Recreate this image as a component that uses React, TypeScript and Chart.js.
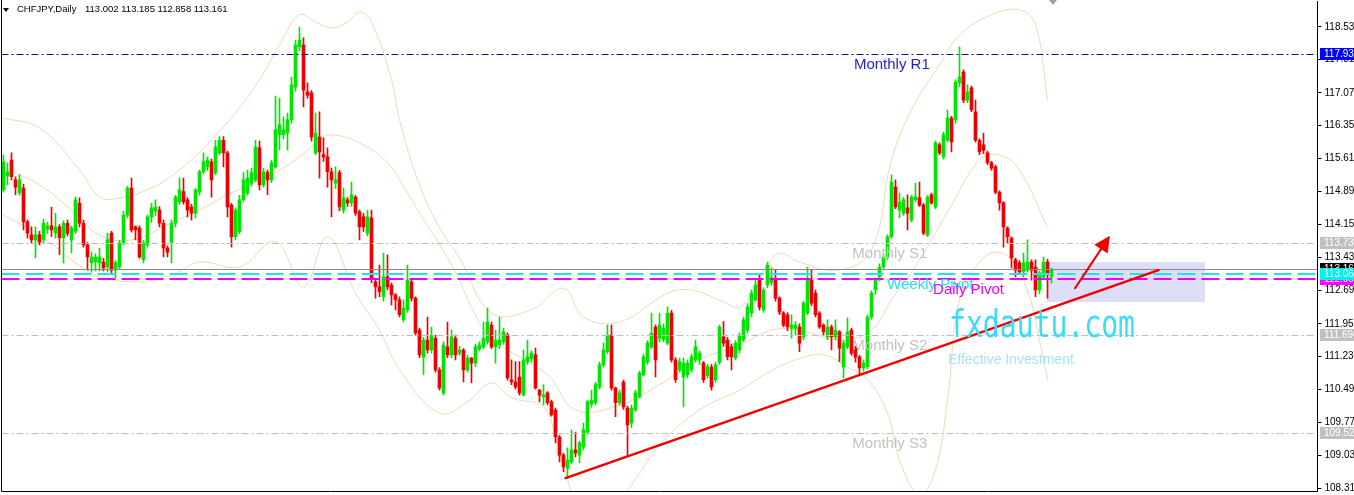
import React, { useEffect, useRef } from 'react';
import { Chart, registerables } from 'chart.js';

Chart.register(...registerables);

// ---------- DATA ----------
const symbolTitle = 'CHFJPY,Daily';
const ohlcTitle = '113.002 113.185 112.858 113.161';

const opens = [
  114.92,115.23,115.58,115.14,114.85,114.96,114.21,113.92,113.81,113.92,
  113.81,114.05,114.12,113.96,114.10,113.86,114.18,113.81,114.00,114.62,
  114.18,113.70,113.30,113.32,113.30,113.32,113.21,113.96,113.14,113.21,
  113.74,114.36,114.96,114.10,114.07,113.37,113.70,114.32,114.45,114.47,
  114.18,113.63,113.76,114.18,114.65,114.88,114.70,114.54,114.40,114.87,
  115.32,115.43,115.54,115.30,115.74,116.02,115.74,114.58,113.88,114.00,
  114.70,114.85,115.07,115.14,115.85,115.03,115.30,115.14,115.43,116.14,
  116.14,116.18,116.47,117.20,118.09,118.13,117.09,117.07,115.74,116.09,
  115.70,115.65,115.32,115.07,115.30,114.47,114.70,114.63,114.76,114.43,
  114.32,113.96,114.30,112.88,112.77,112.55,112.99,112.81,112.59,112.48,
  112.04,112.26,112.88,112.52,111.81,111.21,111.59,111.37,111.63,110.93,
  110.42,111.44,111.26,111.63,111.30,111.37,110.93,111.19,111.08,111.40,
  111.44,111.55,111.92,111.44,111.48,111.55,111.70,110.71,110.66,110.77,
  110.37,111.11,111.17,111.26,110.48,110.33,110.42,110.22,110.04,109.44,
  109.04,108.75,108.89,109.15,109.04,109.22,109.55,110.17,110.20,110.55,
  111.04,111.33,111.70,110.53,110.20,110.66,110.08,109.75,110.04,110.33,
  110.82,111.10,111.44,111.88,111.63,111.60,111.52,112.19,111.15,110.93,
  110.77,110.82,110.93,111.15,111.15,111.08,110.80,110.99,110.71,111.10,
  111.66,111.59,111.44,111.19,111.37,111.59,111.81,112.19,112.48,112.92,
  112.26,112.81,112.86,112.92,112.52,112.19,112.15,111.85,111.85,111.88,
  111.66,112.19,112.92,112.63,112.19,111.92,111.66,111.88,111.66,111.77,
  110.99,111.44,111.81,111.41,111.21,110.97,111.00,112.10,112.70,112.99,
  113.21,113.43,113.88,114.98,114.47,114.40,114.52,114.25,114.70,114.74,
  114.58,113.92,114.81,114.54,115.92,115.65,116.02,116.51,116.47,117.29,
  117.53,116.91,117.18,116.65,116.02,115.92,115.74,115.52,115.43,114.87,
  114.63,114.07,113.85,113.37,113.30,113.10,113.14,113.32,113.21,112.70,
  112.99,113.32,113.002
];
const highs = [
  115.69,115.52,115.74,115.21,115.25,115.05,114.25,114.10,114.10,114.00,
  114.27,114.20,114.54,114.40,114.15,114.23,114.25,114.12,114.76,114.74,
  114.25,113.75,113.54,113.50,113.63,113.40,113.96,114.00,113.35,113.80,
  114.45,115.00,115.18,114.12,114.12,113.80,114.36,114.62,114.70,114.55,
  114.25,113.68,114.25,114.80,115.18,115.18,114.75,114.60,114.95,115.36,
  115.74,115.65,115.60,116.02,116.10,116.10,115.78,114.62,114.52,114.80,
  115.30,115.36,115.40,116.02,116.00,115.40,115.36,115.58,117.00,116.95,
  116.53,116.62,117.42,118.24,118.53,118.29,117.29,117.12,116.62,116.65,
  116.07,115.85,115.40,115.43,115.35,114.96,114.75,115.09,114.80,114.47,
  114.40,114.47,114.47,112.95,113.25,113.52,113.48,112.85,112.62,112.55,
  112.48,113.25,112.95,112.55,111.85,111.65,112.10,111.88,111.70,110.98,
  111.55,111.99,111.81,111.70,111.45,111.40,111.25,111.20,111.50,111.55,
  111.99,112.30,111.99,111.81,112.10,111.85,111.75,111.15,111.11,111.11,
  111.37,111.59,111.35,111.41,110.50,110.60,110.45,110.26,110.08,109.48,
  109.08,109.20,109.60,109.55,109.35,109.75,110.26,110.48,110.65,111.10,
  111.52,111.92,111.92,110.55,110.48,110.70,110.12,110.15,110.48,110.90,
  111.28,111.58,112.19,111.92,112.19,111.95,112.32,112.25,111.20,111.19,
  111.19,111.15,111.28,111.59,111.35,111.12,111.05,111.05,111.10,111.92,
  112.00,111.65,111.50,111.58,111.75,112.10,112.40,112.70,112.92,113.03,
  112.75,113.32,113.19,113.14,112.55,112.22,112.20,112.15,112.00,111.95,
  112.45,113.21,113.14,112.70,112.22,111.95,112.04,111.92,112.04,111.80,
  111.58,112.08,111.85,111.45,111.25,111.15,112.15,112.68,112.97,113.28,
  113.50,113.92,115.25,115.14,114.85,114.75,114.81,114.80,115.07,115.09,
  114.62,114.80,114.85,116.00,115.96,116.20,116.69,116.55,117.36,118.09,
  117.58,117.25,117.22,116.91,116.05,116.18,115.78,115.55,115.47,114.90,
  114.66,114.10,113.88,113.40,113.35,113.52,113.81,113.37,113.37,113.12,
  113.43,113.38,113.185
];
const lows = [
  114.87,115.03,115.14,114.81,114.80,114.03,113.85,113.74,113.41,113.70,
  113.74,113.95,113.88,113.85,113.48,113.30,113.90,113.52,113.95,114.10,
  113.65,113.14,113.10,113.12,113.12,113.12,113.10,113.08,112.97,113.15,
  113.70,114.30,113.98,113.81,113.40,113.30,113.65,114.20,114.35,114.10,
  113.43,113.43,113.30,114.10,114.60,114.60,114.32,114.25,114.30,114.80,
  115.28,115.35,114.76,115.25,115.70,115.43,114.32,113.65,113.81,113.95,
  114.65,114.80,115.00,115.10,114.92,114.98,114.81,115.08,115.40,115.80,
  116.05,115.80,116.40,117.10,118.00,116.76,116.95,116.00,115.70,115.18,
  115.55,114.98,114.32,114.95,114.45,114.40,114.55,114.55,114.35,113.81,
  114.00,113.90,112.86,112.52,112.55,112.45,112.70,112.37,112.26,112.10,
  111.99,112.20,112.45,111.70,111.20,110.82,111.30,111.30,110.88,110.48,
  110.37,111.20,111.20,111.15,111.25,110.66,110.88,110.64,111.00,111.35,
  111.40,111.50,111.40,111.08,111.40,111.50,110.70,110.60,110.50,110.37,
  110.35,111.05,111.10,110.50,110.22,110.15,110.15,109.90,109.31,108.89,
  108.67,108.53,108.85,109.00,108.87,109.15,109.50,110.10,110.15,110.50,
  111.00,111.28,110.48,109.89,110.15,110.05,109.00,109.65,110.00,110.30,
  110.80,111.05,111.40,110.77,111.55,111.55,111.48,111.10,110.65,110.88,
  110.11,110.75,110.88,111.10,111.05,110.65,110.75,110.48,110.65,111.05,
  111.45,111.15,110.93,111.15,111.30,111.55,111.75,112.10,112.45,112.25,
  112.20,112.75,112.80,112.45,112.15,111.88,111.80,111.63,111.70,111.33,
  111.60,112.15,112.35,112.10,111.85,111.70,111.60,111.37,111.60,111.11,
  110.75,111.40,111.25,111.10,110.82,110.90,110.95,112.05,112.60,112.90,
  113.15,113.38,113.85,114.50,114.30,114.35,114.03,114.21,114.65,114.55,
  113.92,113.88,114.60,114.50,115.70,115.60,115.98,115.76,116.40,117.20,
  116.85,116.85,116.65,115.98,115.70,115.72,115.48,115.35,114.83,114.47,
  113.65,113.74,113.19,112.99,113.05,112.99,113.10,112.92,112.55,112.62,
  112.95,112.52,112.858
];
const closes = [
  115.54,115.32,115.21,114.98,115.14,114.21,113.96,113.81,113.92,113.76,
  114.18,114.12,114.03,114.10,113.86,114.18,113.96,114.07,114.70,114.18,
  113.70,113.43,113.43,113.43,113.43,113.19,113.81,113.14,113.30,113.74,
  114.36,114.96,114.03,114.03,113.43,113.74,114.32,114.52,114.54,114.18,
  113.63,113.54,114.18,114.76,114.92,114.65,114.47,114.40,114.92,115.32,
  115.54,115.58,115.14,115.87,116.02,115.74,114.54,113.88,114.47,114.70,
  115.14,115.18,115.30,115.87,115.03,115.32,115.14,115.52,116.25,116.36,
  116.25,116.47,117.25,118.13,118.24,117.13,117.02,116.09,116.18,115.76,
  115.65,115.32,115.14,115.14,114.54,114.74,114.63,114.81,114.40,114.10,
  114.10,114.32,112.97,112.77,112.66,112.99,112.77,112.59,112.48,112.15,
  112.30,112.92,112.52,111.75,111.26,111.59,111.37,111.70,110.93,110.53,
  111.48,111.26,111.66,111.26,111.37,110.93,111.19,111.08,111.44,111.48,
  111.63,111.99,111.44,111.59,111.59,111.77,110.75,110.66,110.55,110.42,
  111.15,111.22,111.30,110.53,110.37,110.37,110.20,109.93,109.44,109.04,
  108.78,108.93,109.15,109.09,109.31,109.60,110.22,110.26,110.60,111.04,
  111.37,111.70,110.53,110.20,110.42,110.11,109.71,110.08,110.42,110.86,
  111.22,111.52,111.74,111.15,111.92,111.85,112.19,111.15,110.71,111.11,
  111.08,111.08,111.22,111.44,111.30,110.71,111.00,110.55,111.04,111.88,
  111.52,111.22,111.22,111.52,111.70,112.04,112.32,112.63,112.81,112.32,
  112.70,113.25,112.97,112.52,112.21,111.92,111.88,111.92,111.92,111.52,
  112.41,112.92,112.41,112.15,111.88,111.77,111.88,111.66,111.81,111.41,
  111.52,111.77,111.30,111.21,110.97,111.08,112.10,112.63,112.92,113.21,
  113.43,113.88,115.09,114.54,114.65,114.70,114.40,114.76,114.76,114.58,
  113.96,114.76,114.63,115.96,115.74,116.14,116.51,115.98,117.31,117.42,
  116.91,117.09,116.69,116.02,115.76,115.80,115.52,115.40,114.87,114.63,
  114.10,113.88,113.41,113.14,113.10,113.30,113.32,113.14,112.70,113.08,
  113.32,113.08,113.161
];

// Bollinger band readings (bar index, price)
const upperIdx = [0,9,19,24,29,37,44,52,59,64,69,74,78,82,86,89,92,97,99,104,109,114,122,132,140,145,154,166,172,179,184,188,191,194,199,209,217,222,227,234,239,247,254,258,261];
const upperVal = [116.51,116.29,115.36,114.76,114.74,114.96,115.36,116.03,116.74,117.36,118.13,118.80,118.64,118.51,118.64,118.86,118.64,117.36,116.47,115.03,114.08,113.41,112.19,112.26,112.74,112.10,111.99,112.63,112.70,112.48,112.32,112.77,113.26,113.52,113.32,113.14,113.59,115.58,116.69,117.69,118.35,118.80,118.91,118.58,116.91];
const middleIdx = [0,9,17,24,32,42,49,56,66,74,79,82,89,96,101,104,112,120,124,136,143,154,164,174,184,192,199,209,217,222,229,237,244,249,254,261];
const middleVal = [115.41,115.03,114.47,113.92,113.81,114.19,114.47,114.81,115.21,115.65,116.03,116.14,115.96,115.52,114.85,114.41,113.26,111.81,111.48,110.82,110.04,110.15,110.60,111.15,111.48,111.81,111.81,111.59,111.81,112.48,113.37,114.58,115.58,115.69,115.36,114.08];
const lowerIdx = [0,9,22,32,42,49,59,68,75,81,88,94,99,109,116,122,127,135,138,141,144,149,157,164,174,184,191,198,205,211,216,221,224,229,233,236,239,244,248,252,256,259,261];
const lowerVal = [114.36,113.92,113.08,112.88,113.03,113.32,113.21,113.77,112.77,113.88,112.63,111.81,110.93,109.97,110.22,110.64,110.31,110.11,109.44,108.49,107.82,107.60,108.38,109.26,110.04,110.48,110.86,111.15,111.26,110.99,110.71,109.97,108.93,108.16,108.71,110.26,112.48,113.32,113.54,113.37,112.70,111.59,110.71];

const yTickValues = [108.31,109.03,109.77,110.49,111.23,111.95,112.69,113.43,114.15,114.89,115.61,116.35,117.07,117.81,118.53];

const levelNames = ['Monthly R1','Monthly S1','Weekly Pivot','Daily Pivot','Monthly S2','Monthly S3'];
const levelValues = [117.939, 113.735, 113.062, 112.951, 111.694, 109.523];
const levelLabelIdx = [212.6, 212.2, 220.9, 232.4, 212.2, 212.2];
const bidPrice = 113.161;

const trendIdx = [140.5, 288.75];
const trendPrice = [108.53, 113.14];
const arrowIdx = [267.9, 276.6];
const arrowPrice = [112.74, 113.9];
const zoneIdx = [260.9, 300.4];
const zonePrice = [113.32, 112.43];

const watermark = 'fxdautu.com';
const watermarkSub = 'Effective Investment';

const slotCount = 329;
const yMin = 108.2435;
const yMax = 119.106;

// ---------- STYLES ----------
const BULL = '#00e400';
const BEAR = '#ee0000';
const BAND = 'rgba(238, 212, 170, 0.9)';
const FONT = '"Liberation Sans", Arial, sans-serif';

const levelStyle: Record<string, any> = {
  'Monthly R1': { line: '#10108c', dash: [7, 3, 2, 3], width: 1, text: '#1f1fd6', box: '#0000ff' },
  'Monthly S1': { line: '#bdbdbd', dash: [7, 3, 2, 3], width: 1, text: '#c2c2c2', box: '#c0c0c0' },
  'Weekly Pivot': { line: '#22e4ee', dash: [18, 6], width: 2, text: '#22e4ee', box: '#00f0f0' },
  'Daily Pivot': { line: '#f000f0', dash: [18, 6], width: 2, text: '#f000f0', box: '#ff00ff' },
  'Monthly S2': { line: '#bdbdbd', dash: [7, 3, 2, 3], width: 1, text: '#c2c2c2', box: '#c0c0c0' },
  'Monthly S3': { line: '#bdbdbd', dash: [7, 3, 2, 3], width: 1, text: '#c2c2c2', box: '#c0c0c0' },
};

function bandSeries(idx: number[], val: number[]) {
  const arr: (number | null)[] = new Array(slotCount).fill(null);
  idx.forEach((k, j) => { arr[k] = val[j]; });
  return arr;
}

const overlayPlugin = {
  id: 'mt4overlay',
  beforeDatasetsDraw(chart: any) {
    const { ctx, scales: { x, y } } = chart;
    const x0 = x.getPixelForValue(zoneIdx[0]);
    const x1 = x.getPixelForValue(zoneIdx[1]);
    const y0 = y.getPixelForValue(zonePrice[0]);
    const y1 = y.getPixelForValue(zonePrice[1]);
    ctx.save();
    ctx.fillStyle = '#dedef6';
    ctx.fillRect(Math.round(x0), Math.round(y0), Math.round(x1 - x0), Math.round(y1 - y0));
    ctx.restore();
  },
  afterDatasetsDraw(chart: any) {
    const { ctx, chartArea: a, scales: { x, y } } = chart;
    ctx.save();
    ctx.beginPath();
    ctx.rect(a.left, a.top, a.right - a.left, a.bottom - a.top);
    ctx.clip();

    // bid line
    const by = Math.round(y.getPixelForValue(bidPrice)) + 0.5;
    ctx.strokeStyle = '#8a8a8a';
    ctx.lineWidth = 1;
    ctx.setLineDash([]);
    ctx.beginPath(); ctx.moveTo(a.left, by); ctx.lineTo(a.right, by); ctx.stroke();

    // level lines
    levelNames.forEach((name, i) => {
      const st = levelStyle[name];
      const py = Math.round(y.getPixelForValue(levelValues[i])) + (st.width === 1 ? 0.5 : 0);
      ctx.strokeStyle = st.line;
      ctx.lineWidth = st.width;
      ctx.setLineDash(st.dash);
      ctx.beginPath(); ctx.moveTo(a.left, py); ctx.lineTo(a.right, py); ctx.stroke();
    });
    ctx.setLineDash([]);

    // level labels
    ctx.font = '15px ' + FONT;
    ctx.textBaseline = 'alphabetic';
    ctx.textAlign = 'left';
    levelNames.forEach((name, i) => {
      const st = levelStyle[name];
      const py = y.getPixelForValue(levelValues[i]);
      ctx.fillStyle = st.text;
      ctx.fillText(name, x.getPixelForValue(levelLabelIdx[i]), py + 15);
    });

    // trend line
    ctx.strokeStyle = '#f20000';
    ctx.lineWidth = 2.5;
    ctx.lineCap = 'round';
    ctx.beginPath();
    ctx.moveTo(x.getPixelForValue(trendIdx[0]), y.getPixelForValue(trendPrice[0]));
    ctx.lineTo(x.getPixelForValue(trendIdx[1]), y.getPixelForValue(trendPrice[1]));
    ctx.stroke();

    // arrow
    const ax0 = x.getPixelForValue(arrowIdx[0]);
    const ay0 = y.getPixelForValue(arrowPrice[0]);
    const ax1 = x.getPixelForValue(arrowIdx[1]);
    const ay1 = y.getPixelForValue(arrowPrice[1]);
    const len = Math.hypot(ax1 - ax0, ay1 - ay0);
    const ux = (ax1 - ax0) / len, uy = (ay1 - ay0) / len;
    const bx = ax1 - ux * 16, byy = ay1 - uy * 16;
    ctx.lineWidth = 2;
    ctx.beginPath(); ctx.moveTo(ax0, ay0); ctx.lineTo(bx, byy); ctx.stroke();
    ctx.fillStyle = '#f20000';
    ctx.beginPath();
    ctx.moveTo(ax1, ay1);
    ctx.lineTo(bx - uy * 8, byy + ux * 8);
    ctx.lineTo(bx + uy * 8, byy - ux * 8);
    ctx.closePath();
    ctx.fill();

    // watermark
    ctx.fillStyle = '#3adcf8';
    ctx.font = '37px "DejaVu Sans Mono", monospace';
    const w = ctx.measureText(watermark).width;
    ctx.save();
    ctx.translate(949, 337);
    ctx.scale(186 / w, 1);
    ctx.fillText(watermark, 0, 0);
    ctx.restore();
    ctx.fillStyle = '#a4e6f6';
    ctx.font = '14px ' + FONT;
    ctx.fillText(watermarkSub, 948, 364);

    ctx.restore();
  },
  afterDraw(chart: any) {
    const { ctx, chartArea: a, scales: { x, y }, width } = chart;
    ctx.save();
    // frame
    ctx.strokeStyle = '#000';
    ctx.lineWidth = 1;
    ctx.beginPath();
    ctx.moveTo(1.5, 0); ctx.lineTo(1.5, a.bottom + 0.5); ctx.lineTo(a.right, a.bottom + 0.5);
    ctx.stroke();

    // axis price boxes
    const drawBox = (price: number, bg: string, fg: string) => {
      const py = y.getPixelForValue(price);
      ctx.fillStyle = bg;
      ctx.fillRect(1320, Math.round(py) - 6, width - 1320, 12);
      ctx.fillStyle = fg;
      ctx.font = '10px ' + FONT;
      ctx.textBaseline = 'middle';
      ctx.textAlign = 'left';
      ctx.fillText(price.toFixed(3), 1324, Math.round(py) + 0.5);
    };
    [1, 4, 5].forEach((i) => drawBox(levelValues[i], levelStyle[levelNames[i]].box, '#ffffff'));
    drawBox(levelValues[0], levelStyle[levelNames[0]].box, '#ffffff');
    drawBox(bidPrice, '#000000', '#ffffff');
    drawBox(levelValues[3], levelStyle[levelNames[3]].box, '#ffffff');
    drawBox(levelValues[2], levelStyle[levelNames[2]].box, '#ffffff');

    // title
    ctx.fillStyle = '#000';
    ctx.beginPath(); ctx.moveTo(3, 8); ctx.lineTo(9, 8); ctx.lineTo(6, 12); ctx.closePath(); ctx.fill();
    ctx.font = '9.5px ' + FONT;
    ctx.textBaseline = 'alphabetic';
    ctx.fillText(symbolTitle, 17, 12);
    ctx.fillText(ohlcTitle, 85, 12);

    // chart shift marker
    const sx = Math.round(x.getPixelForValue(opens.length - 1)) + 1;
    ctx.fillStyle = '#a0a0a0';
    ctx.beginPath(); ctx.moveTo(sx - 4, 0); ctx.lineTo(sx + 4, 0); ctx.lineTo(sx, 5); ctx.closePath(); ctx.fill();
    ctx.restore();
  },
};

export default function App() {
  const ref = useRef<HTMLCanvasElement>(null);
  useEffect(() => {
    const labels = Array.from({ length: slotCount }, (_, i) => String(i));
    const colors = closes.map((c, i) => (c >= opens[i] ? BULL : BEAR));
    const wickData = lows.map((l, i) => [l, highs[i]]);
    const bodyData = opens.map((o, i) => [Math.min(o, closes[i]), Math.max(o, closes[i])]);
    const bandDs = (data: (number | null)[]) => ({
      type: 'line' as const,
      data,
      borderColor: BAND,
      borderWidth: 1,
      pointRadius: 0,
      spanGaps: true,
      tension: 0.4,
      order: 3,
    });
    const chart = new Chart(ref.current as HTMLCanvasElement, {
      type: 'bar',
      data: {
        labels,
        datasets: [
          bandDs(bandSeries(upperIdx, upperVal)) as any,
          bandDs(bandSeries(middleIdx, middleVal)) as any,
          bandDs(bandSeries(lowerIdx, lowerVal)) as any,
          { type: 'bar', data: wickData as any, backgroundColor: colors, barThickness: 1, grouped: false, order: 2, borderWidth: 0 },
          { type: 'bar', data: bodyData as any, backgroundColor: colors, barThickness: 3, grouped: false, order: 1, borderWidth: 0, minBarLength: 1 },
        ],
      },
      options: {
        animation: false,
        responsive: false,
        devicePixelRatio: 1,
        events: [],
        layout: { padding: { top: 1, left: 1.5, right: 0, bottom: 4 } },
        plugins: { legend: { display: false }, tooltip: { enabled: false }, title: { display: false } },
        scales: {
          x: { type: 'category', display: false, offset: true, grid: { display: false } },
          y: {
            position: 'right',
            min: yMin,
            max: yMax,
            afterBuildTicks: (s: any) => { s.ticks = yTickValues.map((v) => ({ value: v })); },
            afterFit: (s: any) => { s.width = 36.5; s.paddingTop = 0; s.paddingBottom = 0; },
            ticks: {
              autoSkip: false,
              color: '#000',
              padding: 3,
              font: { family: 'Liberation Sans', size: 10 },
              callback: (v: any) => Number(v).toFixed(3),
            },
            grid: { display: true, drawOnChartArea: false, drawTicks: true, tickLength: 4, color: '#000' },
            border: { display: true, color: '#000' },
          },
        },
      },
      plugins: [overlayPlugin],
    });
    return () => chart.destroy();
  }, []);
  return (
    <div style={{ position: 'fixed', left: 0, top: 0, width: 1354, height: 495, background: '#fff' }}>
      <canvas ref={ref} width={1354} height={495} style={{ display: 'block', width: 1354, height: 495 }} />
    </div>
  );
}
